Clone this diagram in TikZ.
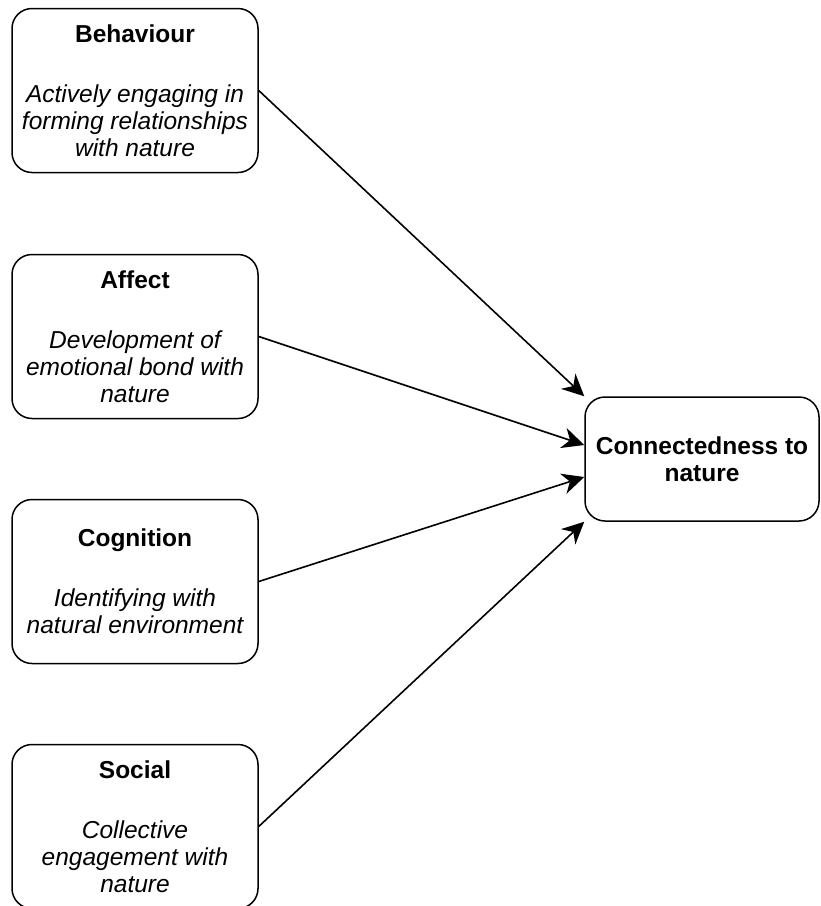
\documentclass[tikz,border=0pt]{standalone}
\usepackage{fontspec}
\setmainfont{Liberation Sans}
\usetikzlibrary{arrows.meta}

\tikzset{
  factor/.style={draw, line width=1.5pt, rounded corners=20pt, align=center,
    minimum width=246pt, minimum height=164pt, inner sep=0pt,
    font=\fontsize{24.5}{27}\selectfont},
  outcome/.style={factor, minimum width=234pt, minimum height=124pt},
  link/.style={line width=1.6pt, -{Stealth[length=22pt,width=21pt,inset=7pt]}}
}

\begin{document}
\begin{tikzpicture}[x=1pt, y=-1pt]

\useasboundingbox (0,0) rectangle (821,906);

\node[factor] (behaviour) at (135,90.5)
  {\textbf{Behaviour}\\[33pt]\itshape Actively engaging in\\\itshape forming relationships\\\itshape with nature};
\node[factor] (affect) at (135,336.5)
  {\textbf{Affect}\\[33pt]\itshape Development of\\\itshape emotional bond with\\\itshape nature};
\node[factor] (cognition) at (135,581.5)
  {\textbf{Cognition}\\[33pt]\itshape Identifying with\\\itshape natural environment};
\node[factor] (social) at (135,826.5)
  {\textbf{Social}\\[33pt]\itshape Collective\\\itshape engagement with\\\itshape nature};

\node[outcome] (connect) at (702,459) {\textbf{Connectedness to}\\\textbf{nature}};

% arrows into the outcome box
\draw[link] (behaviour.east) -- (connect.north west);
\draw[link] (affect.east) -- ([yshift=14pt]connect.west);
\draw[link] (cognition.east) -- ([yshift=-18pt]connect.west);
\draw[link] (social.east) -- (connect.south west);

\end{tikzpicture}
\end{document}
